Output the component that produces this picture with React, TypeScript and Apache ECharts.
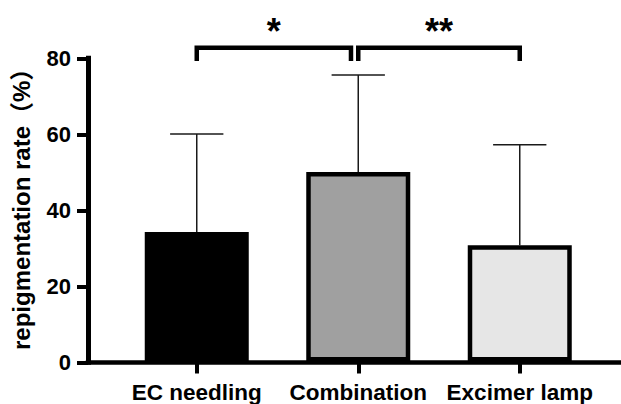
import React, { useEffect, useRef } from "react";
import * as echarts from "echarts";

const categories = ["EC needling", "Combination", "Excimer lamp"];
const means = [34.2, 50.0, 30.7];
const upperErrors = [60.0, 75.6, 57.2];
const barColors = ["#000000", "#a0a0a0", "#e6e6e6"];
const yTicks = { min: 0, max: 80, interval: 20 };
const bracketFrom = [0, 1];
const bracketTo = [0.955, 2];
const bracketTop = [82.8, 82.8];
const bracketLeg = [79.3, 79.3];
const bracketLabels = ["*", "**"];

const FONT = "'Liberation Sans', Arial, 'Noto Sans CJK SC', sans-serif";

export default function App() {
  const ref = useRef<HTMLDivElement>(null);
  useEffect(() => {
    if (!ref.current) return;
    const chart = echarts.init(ref.current, undefined, { renderer: "svg" });
    const axisText = { color: "#000", fontSize: 22, fontWeight: "bold" as const, fontFamily: FONT };
    const option: any = {
      animation: false,
      backgroundColor: "#ffffff",
      grid: [
        { left: 88, right: 1, top: 58.3, bottom: 41.7 },
        { left: 116, right: 20.5, top: 58.3, bottom: 41.7 },
      ],
      xAxis: [
        {
          type: "value",
          gridIndex: 0,
          min: 0,
          max: 1,
          axisLine: { show: true, lineStyle: { color: "#000", width: 4.5, cap: "square" } },
          axisTick: { show: false },
          axisLabel: { show: false },
          splitLine: { show: false },
        },
        {
          type: "category",
          gridIndex: 1,
          data: categories,
          axisLine: { show: false },
          axisTick: { show: true, alignWithLabel: true, length: 12, lineStyle: { color: "#000", width: 4 } },
          axisLabel: { ...axisText, fontSize: 22.5, margin: 20, interval: 0, hideOverlap: false },
        },
      ],
      yAxis: [
        {
          type: "value",
          gridIndex: 0,
          min: yTicks.min,
          max: yTicks.max,
          interval: yTicks.interval,
          name: "repigmentation rate（%）",
          nameLocation: "middle",
          nameGap: 55,
          nameTextStyle: { ...axisText, fontSize: 24, padding: [0, 0, 0, 14] },
          axisLine: { show: true, lineStyle: { color: "#000", width: 5, cap: "square" } },
          axisTick: { show: true, length: 11, lineStyle: { color: "#000", width: 4 } },
          axisLabel: { ...axisText, margin: 17 },
          splitLine: { show: false },
        },
        {
          type: "value",
          gridIndex: 1,
          min: yTicks.min,
          max: yTicks.max,
          interval: yTicks.interval,
          show: false,
          splitLine: { show: false },
        },
      ],
      series: [
        {
          type: "custom",
          xAxisIndex: 1,
          yAxisIndex: 1,
          z: 1,
          clip: false,
          data: categories.map((_, i) => [i, means[i], upperErrors[i]]),
          renderItem: (params: any, api: any) => {
            const i = api.value(0);
            const base = api.coord([i, api.value(1)]);
            const top = api.coord([i, api.value(2)]);
            const half = api.size([1, 0])[0] * 0.165;
            const style = { stroke: "#1a1a1a", lineWidth: 1.5 };
            return {
              type: "group",
              children: [
                { type: "line", shape: { x1: base[0], y1: base[1], x2: top[0], y2: top[1] }, style },
                { type: "line", shape: { x1: top[0] - half, y1: top[1], x2: top[0] + half, y2: top[1] }, style },
              ],
            };
          },
        },
        {
          type: "bar",
          xAxisIndex: 1,
          yAxisIndex: 1,
          z: 2,
          barWidth: 104,
          data: means.map((v, i) => ({
            value: v,
            itemStyle: { color: barColors[i], borderColor: "#000", borderWidth: 4.5 },
          })),
        },
        {
          type: "custom",
          xAxisIndex: 1,
          yAxisIndex: 1,
          z: 3,
          clip: false,
          data: bracketFrom.map((f, k) => [f, bracketTo[k], bracketTop[k], bracketLeg[k]]),
          renderItem: (params: any, api: any) => {
            const k = params.dataIndex;
            const from = api.value(0);
            const to = api.value(1);
            const yTop = api.coord([0, api.value(2)])[1];
            const yLeg = api.coord([0, api.value(3)])[1];
            const xAt = (v: number) => {
              const a = Math.floor(v);
              const c0 = api.coord([a, 0])[0];
              const step = api.size([1, 0])[0];
              return c0 + (v - a) * step;
            };
            const x1 = xAt(from);
            const x2 = xAt(to);
            return {
              type: "group",
              children: [
                {
                  type: "polyline",
                  shape: { points: [[x1, yLeg], [x1, yTop], [x2, yTop], [x2, yLeg]] },
                  style: { stroke: "#000", lineWidth: 4.5, fill: "none", lineJoin: "miter" },
                },
                {
                  type: "text",
                  x: (x1 + x2) / 2,
                  y: yTop - 16,
                  style: {
                    text: bracketLabels[k],
                    fill: "#000",
                    font: `bold 36px ${FONT}`,
                    align: "center",
                    verticalAlign: "middle",
                  },
                },
              ],
            };
          },
        },
      ],
    };
    chart.setOption(option);
    return () => chart.dispose();
  }, []);
  return <div ref={ref} style={{ position: "fixed", left: 0, top: 0, width: 621, height: 404 }} />;
}
